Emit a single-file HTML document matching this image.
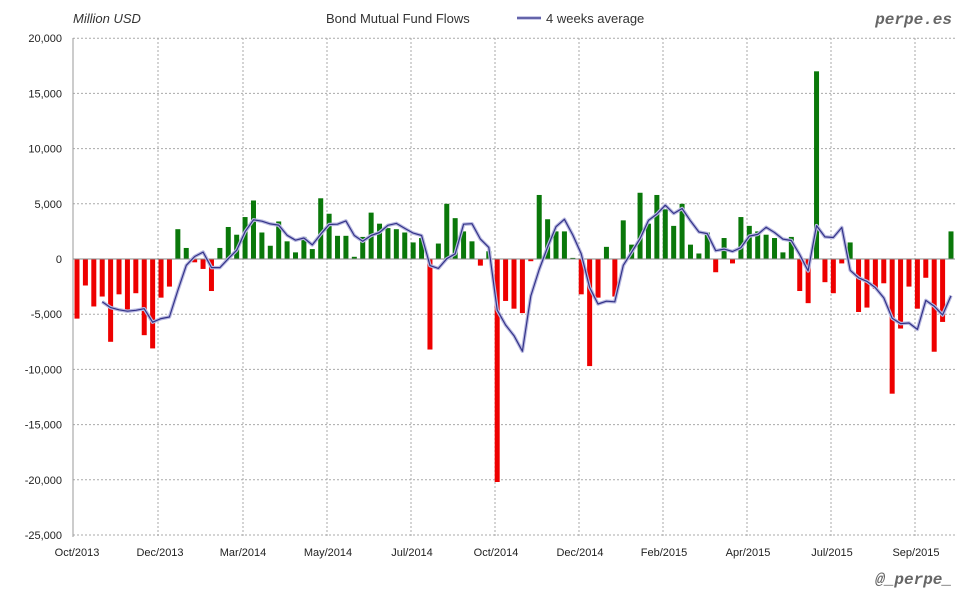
<!DOCTYPE html>
<html><head><meta charset="utf-8"><style>
body{margin:0;background:#fff;}
svg{display:block;font-family:"Liberation Sans",sans-serif;}
</style></head><body>
<svg id="c" width="980" height="600" xmlns="http://www.w3.org/2000/svg">
<rect width="980" height="600" fill="#fff"/>
<g id="grid"></g>
<g id="bars"></g>
<g id="line"></g>
<line x1="73" y1="38" x2="73" y2="537" stroke="#999" stroke-width="1"/>
<text x="73" y="23" font-size="13" font-style="italic" fill="#333">Million USD</text>
<text x="326" y="23" font-size="13" fill="#333">Bond Mutual Fund Flows</text>
<line x1="517" y1="18" x2="541" y2="18" stroke="#b8b8e0" stroke-width="3.5"/>
<line x1="517" y1="18" x2="541" y2="18" stroke="#333388" stroke-width="1.3"/>
<text x="546" y="23" font-size="13" fill="#333">4 weeks average</text>
<text x="952" y="24" font-size="16" font-weight="bold" font-style="italic" fill="#666" text-anchor="end" font-family="Liberation Mono,monospace">perpe.es</text>
<text x="952" y="584" font-size="16" font-weight="bold" font-style="italic" fill="#666" text-anchor="end" font-family="Liberation Mono,monospace">@_perpe_</text>
</svg>
<script>
var NS="http://www.w3.org/2000/svg";
function el(p,t,a,txt){var e=document.createElementNS(NS,t);for(var k in a)e.setAttribute(k,a[k]);if(txt)e.textContent=txt;document.getElementById(p).appendChild(e);return e;}
var z=259,s=11.04/1000*1000; // px per thousand
function Y(v){return z-v*11.04;}
// horizontal grid
for(var v=20;v>=-25;v-=5){var y=Y(v);
 if(v!==0)el("grid","line",{x1:73,x2:955,y1:y,y2:y,stroke:"#aaa","stroke-dasharray":"2,2"});
 el("grid","text",{x:62,y:y+4,"font-size":11,"text-anchor":"end",fill:"#222"},(v<0?"-":"")+Math.abs(v*1000).toLocaleString("en-US"));}
var vx=[158,243,327,411,495,579,663,747,831,915];
vx.forEach(function(x){el("grid","line",{x1:x,x2:x,y1:38,y2:537,stroke:"#aaa","stroke-dasharray":"2,2"});});
var lab=[[77,"Oct/2013"],[160,"Dec/2013"],[243,"Mar/2014"],[328,"May/2014"],[412,"Jul/2014"],[496,"Oct/2014"],[580,"Dec/2014"],[664,"Feb/2015"],[748,"Apr/2015"],[832,"Jul/2015"],[916,"Sep/2015"]];
lab.forEach(function(l){el("grid","text",{x:l[0],y:556,"font-size":11,"text-anchor":"middle",fill:"#222"},l[1]);});
var d=[-5.4,-2.4,-4.3,-3.4,-7.5,-3.2,-4.8,-3.1,-6.9,-8.1,-3.5,-2.5,2.7,1.0,-0.3,-0.9,-2.9,1.0,2.9,2.2,3.8,5.3,2.4,1.2,3.4,1.6,0.6,2.0,0.9,5.5,4.1,2.1,2.1,0.2,2.0,4.2,3.2,2.8,2.7,2.4,1.5,1.9,-8.2,1.4,5.0,3.7,2.5,1.6,-0.6,0.7,-20.2,-3.8,-4.5,-4.9,-0.2,5.8,3.6,2.5,2.5,0.1,-3.2,-9.7,-3.5,1.1,-3.4,3.5,1.3,6.0,
3.2,5.8,4.5,3.0,5.0,1.3,0.5,2.4,-1.2,1.9,-0.4,3.8,3.0,2.5,2.2,1.9,0.6,2.0,-2.9,-4.0,17.0,-2.1,-3.1,-0.4,1.5,-4.8,-4.4,-2.7,-2.2,-12.2,-6.3,-2.5,-4.5,-1.7,-8.4,-5.7,2.5];
var sp=(951-77)/(d.length-1);
var pts=[];
d.forEach(function(v,i){var x=77+i*sp;var y0=Math.min(z,Y(v)),h=Math.abs(v*11.04);
 el("bars","rect",{x:x-2.5,y:y0,width:5,height:Math.max(h,1),fill:v>=0?"#0a780a":"#ee0000"});
 if(i>=3){var a=(d[i]+d[i-1]+d[i-2]+d[i-3])/4;pts.push(x.toFixed(1)+","+Y(a).toFixed(1));}});
el("bars","line",{x1:73,x2:955,y1:z,y2:z,stroke:"#888"});
el("line","polyline",{points:pts.join(" "),fill:"none",stroke:"#b8b8e0","stroke-width":3.5,"stroke-linejoin":"round"});
el("line","polyline",{points:pts.join(" "),fill:"none",stroke:"#333388","stroke-width":1.2,"stroke-linejoin":"round"});
</script>
</body></html>
